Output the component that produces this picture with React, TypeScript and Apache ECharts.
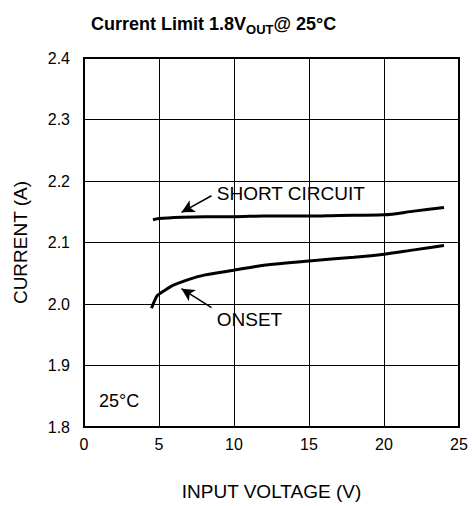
import React, { useEffect, useRef } from "react";
import * as echarts from "echarts";

const FONT = "'Liberation Sans', Arial, Helvetica, sans-serif";

const xTicks = [0, 5, 10, 15, 20, 25];
const yTicks = [1.8, 1.9, 2.0, 2.1, 2.2, 2.3, 2.4];

const shortCircuitV = [4.6, 5, 6.5, 8, 10, 12, 15, 17, 20, 22, 24];
const shortCircuitA = [2.137, 2.139, 2.141, 2.142, 2.142, 2.143, 2.143, 2.144, 2.145, 2.151, 2.157];

const onsetV = [4.5, 4.7, 4.9, 5.5, 6, 7, 8, 10, 12, 15, 18, 20, 22, 24];
const onsetA = [1.993, 2.005, 2.014, 2.024, 2.031, 2.04, 2.047, 2.055, 2.063, 2.07, 2.076, 2.081, 2.088, 2.095];

const labelShort = { text: "SHORT CIRCUIT", at: [8.85, 2.18], size: 19 };
const labelOnset = { text: "ONSET", at: [8.85, 1.974], size: 19 };
const labelTemp = { text: "25°C", at: [1.0, 1.842], size: 18 };
const arrowShort = [[8.5, 2.176], [6.5, 2.149]];
const arrowOnset = [[8.5, 1.994], [6.5, 2.025]];

export default function App() {
  const ref = useRef<HTMLDivElement>(null);
  useEffect(() => {
    if (!ref.current) return;
    const chart = echarts.init(ref.current, null, { renderer: "svg" });
    const textLabel = (t: { text: string; at: number[]; size: number }) => ({
      coord: t.at,
      symbol: "circle",
      symbolSize: 0,
      label: {
        show: true,
        position: "right",
        distance: 0,
        formatter: t.text,
        color: "#000",
        fontSize: t.size,
        fontFamily: FONT,
      },
    });
    chart.setOption({
      animation: false,
      backgroundColor: "#fff",
      title: {
        left: 86,
        top: 6,
        text: "{a|Current Limit 1.8V}{b|OUT}{a|@ 25°C}",
        textStyle: {
          rich: {
            a: { fontSize: 18, fontWeight: "bold", fontFamily: FONT, color: "#000", lineHeight: 24 },
            b: { fontSize: 13, fontWeight: "bold", fontFamily: FONT, color: "#000", padding: [12, 0, 0, 0] },
          },
        },
      },
      grid: { left: 84, right: 16, top: 58, bottom: 73, show: true, borderColor: "#000", borderWidth: 2, backgroundColor: "transparent" },
      xAxis: {
        type: "value",
        min: xTicks[0],
        max: xTicks[xTicks.length - 1],
        interval: 5,
        name: "INPUT VOLTAGE (V)",
        nameLocation: "middle",
        nameGap: 55,
        nameTextStyle: { fontSize: 19, fontFamily: FONT, color: "#000" },
        axisLine: { lineStyle: { color: "#000", width: 2 } },
        axisTick: { show: false },
        axisLabel: { fontSize: 16, fontFamily: FONT, color: "#000", margin: 9 },
        splitLine: { show: true, lineStyle: { color: "#000", width: 1 } },
      },
      yAxis: {
        type: "value",
        min: yTicks[0],
        max: yTicks[yTicks.length - 1],
        interval: 0.1,
        name: "CURRENT (A)",
        nameLocation: "middle",
        nameGap: 54,
        nameTextStyle: { fontSize: 19, fontFamily: FONT, color: "#000" },
        axisLine: { show: true, lineStyle: { color: "#000", width: 2 } },
        axisTick: { show: false },
        axisLabel: { fontSize: 16, fontFamily: FONT, color: "#000", margin: 14, formatter: (v: number) => v.toFixed(1) },
        splitLine: { show: true, lineStyle: { color: "#000", width: 1 } },
      },
      series: [
        {
          name: "SHORT CIRCUIT",
          type: "line",
          data: shortCircuitV.map((v, i) => [v, shortCircuitA[i]]),
          showSymbol: false,
          smooth: 0.3,
          lineStyle: { color: "#000", width: 3 },
          markLine: {
            silent: true,
            symbol: ["none", "arrow"],
            symbolSize: [10, 13],
            lineStyle: { color: "#000", width: 1.5, type: "solid" },
            label: { show: false },
            data: [[{ coord: arrowShort[0] }, { coord: arrowShort[1] }]],
          },
          markPoint: { silent: true, data: [textLabel(labelShort), textLabel(labelTemp)] },
        },
        {
          name: "ONSET",
          type: "line",
          data: onsetV.map((v, i) => [v, onsetA[i]]),
          showSymbol: false,
          smooth: 0.3,
          lineStyle: { color: "#000", width: 3 },
          markLine: {
            silent: true,
            symbol: ["none", "arrow"],
            symbolSize: [10, 13],
            lineStyle: { color: "#000", width: 1.5, type: "solid" },
            label: { show: false },
            data: [[{ coord: arrowOnset[0] }, { coord: arrowOnset[1] }]],
          },
          markPoint: { silent: true, data: [textLabel(labelOnset)] },
        },
      ],
    });
    return () => chart.dispose();
  }, []);
  return <div ref={ref} style={{ position: "fixed", left: 0, top: 0, width: 475, height: 506 }} />;
}
